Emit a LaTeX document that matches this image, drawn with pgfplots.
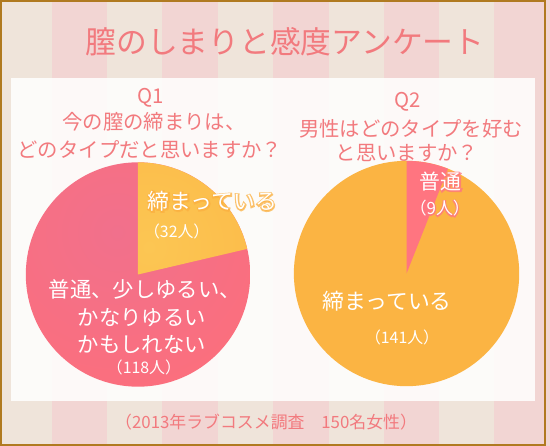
\documentclass[border=0pt]{standalone}
\usepackage{fontspec}
\setmainfont{Noto Sans CJK JP}
\newfontfamily\glowfont[FakeBold=12]{Noto Sans CJK JP}
\usepackage{pgfplots}
\usepackage{pgfplotstable}
\pgfplotsset{compat=1.18}

\definecolor{bgbeige}{HTML}{EFE4DA}
\definecolor{bgpink}{HTML}{F2D5D3}
\definecolor{frame}{HTML}{B07A20}
\definecolor{ttl}{HTML}{F27A7E}
\definecolor{pieorange}{HTML}{FBB443}
\definecolor{pieorangelt}{HTML}{FCC653}
\definecolor{piepink}{HTML}{FC6F7C}
\definecolor{piemagenta}{HTML}{F1708C}
\definecolor{glowor}{HTML}{FBB040}
\definecolor{glowpk}{HTML}{FF7580}

\pgfdeclareradialshading{softpink}{\pgfpoint{0bp}{0bp}}{%
  color(0bp)=(piemagenta); color(17bp)=(piepink); color(50bp)=(piepink)}
\pgfdeclareradialshading{softorange}{\pgfpoint{0bp}{0bp}}{%
  color(0bp)=(pieorangelt); color(20bp)=(pieorange); color(50bp)=(pieorange)}

% answers, Q1 and Q2
\pgfplotstableread{
answer count
tight 32
loose 118
}\qone
\pgfplotstableread{
answer count
normal 9
tight 141
}\qtwo

\pgfplotstablegetelem{0}{count}\of\qone \let\qoneA\pgfplotsretval
\pgfplotstablegetelem{1}{count}\of\qone \let\qoneB\pgfplotsretval
\pgfplotstablegetelem{0}{count}\of\qtwo \let\qtwoA\pgfplotsretval
\pgfplotstablegetelem{1}{count}\of\qtwo \let\qtwoB\pgfplotsretval
\pgfmathsetmacro\angA{360*\qoneA/(\qoneA+\qoneB)}
\pgfmathsetmacro\angB{360*\qtwoA/(\qtwoA+\qtwoB)}

\newcommand{\fs}[1]{\fontsize{#1}{#1}\selectfont}
% white text with a soft coloured halo (emboldened copy behind)
\newcommand{\glow}[5]{%
  \node[text=#3, text opacity=0.75, font=\glowfont\fs{#4}] at (axis cs:#1,#2) {#5};
  \node[text=white, font=\fs{#4}] at (axis cs:#1,#2) {#5};
}

\begin{document}
\begin{tikzpicture}
\begin{axis}[x=1pt,y=1pt,xmin=0,xmax=550,ymin=0,ymax=449,
  hide axis,clip=false,scale only axis]
% background stripes
\fill[bgbeige] (axis cs:0,0) rectangle (axis cs:550,449);
\fill[bgpink] (axis cs:52,0) rectangle (axis cs:108,449);
\fill[bgpink] (axis cs:163.5,0) rectangle (axis cs:219.5,449);
\fill[bgpink] (axis cs:275,0) rectangle (axis cs:331,449);
\fill[bgpink] (axis cs:386.5,0) rectangle (axis cs:442.5,449);
\fill[bgpink] (axis cs:498,0) rectangle (axis cs:554,449);
\fill[white,opacity=0.86] (axis cs:11,45) rectangle (axis cs:539,370);
\draw[frame,line width=2pt] (axis cs:1,1) rectangle (axis cs:549,448);

% pie 1
\begin{scope}
  \clip (axis cs:139,172.5) circle[radius=113pt];
  \shade[shading=softpink] (axis cs:118,215) circle[radius=260pt];
\end{scope}
\begin{scope}
  \clip (axis cs:139,172.5) -- ++(0pt,113pt)
    arc[start angle=90,end angle={90-\angA},radius=113pt] -- cycle;
  \shade[shading=softorange] (axis cs:150,200) circle[radius=260pt];
\end{scope}
% pie 2
\fill[pieorange] (axis cs:409.5,173.5) circle[radius=113.5pt];
\fill[glowpk] (axis cs:409.5,173.5) -- ++(0pt,113.5pt)
  arc[start angle=90,end angle={90-\angB},radius=113.5pt] -- cycle;

% titles
\node[text=ttl,font=\fs{31}] at (axis cs:287,407) {膣のしまりと感度アンケート};
\node[text=ttl,font=\fs{20.5}] at (axis cs:152,351) {Q1};
\node[text=ttl,font=\fs{20.5}] at (axis cs:155,326) {今の膣の締まりは、};
\node[text=ttl,font=\fs{20.5}] at (axis cs:151,298) {どのタイプだと思いますか？};
\node[text=ttl,font=\fs{20.5}] at (axis cs:411,346) {Q2};
\node[text=ttl,font=\fs{20.5}] at (axis cs:414,319) {男性はどのタイプを好む};
\node[text=ttl,font=\fs{20.5}] at (axis cs:410,295) {と思いますか？};

% slice labels
\glow{214}{246}{glowor}{22}{締まっている}
\node[text=white,font=\fs{16}] at (axis cs:178,216) {（32人）};
\node[text=white,font=\fs{21.5}] at (axis cs:146,157) {普通、少しゆるい、};
\node[text=white,font=\fs{21.5}] at (axis cs:143,129) {かなりゆるい};
\node[text=white,font=\fs{21.5}] at (axis cs:143,102) {かもしれない};
\node[text=white,font=\fs{16}] at (axis cs:145,79) {（118人）};

\glow{444}{266}{glowpk}{21}{普通}
\glow{443}{239}{glowpk}{17}{（9人）}
\node[text=white,font=\fs{22}] at (axis cs:390,146) {締まっている};
\node[text=white,font=\fs{16}] at (axis cs:405,109) {（141人）};

\node[text=ttl,font=\fs{17}] at (axis cs:268,24) {（2013年ラブコスメ調査　150名女性）};
\end{axis}
\end{tikzpicture}
\end{document}
